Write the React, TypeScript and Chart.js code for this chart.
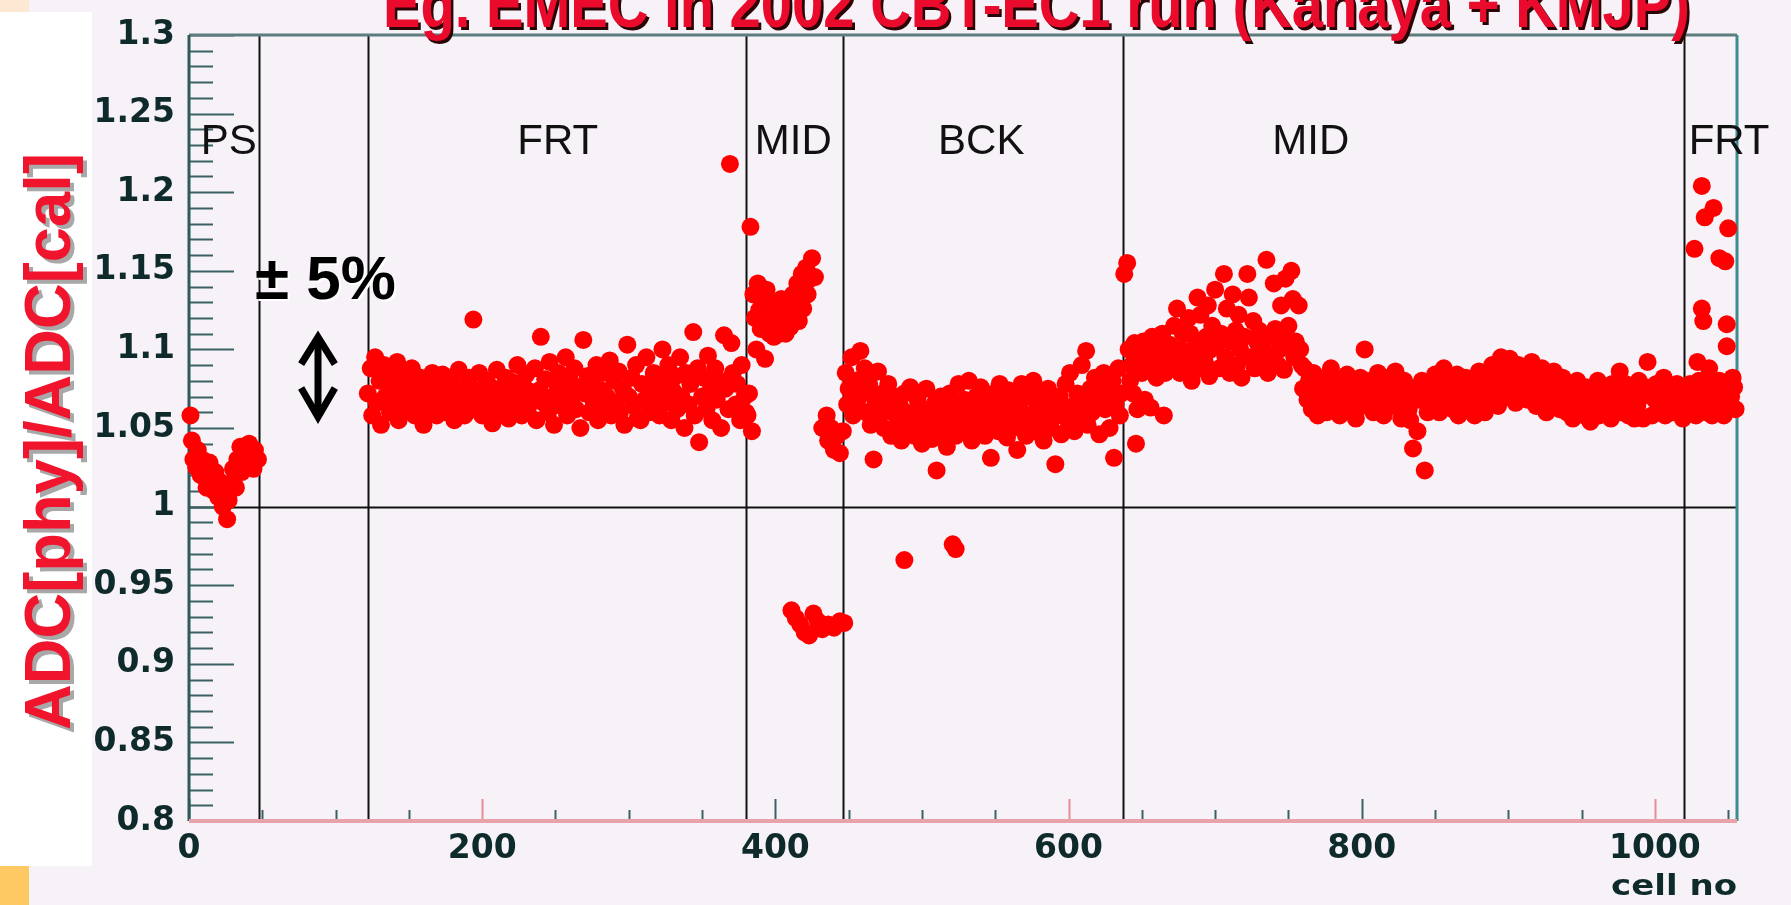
import React, { useEffect, useRef } from "react";
import { Chart, registerables } from "chart.js";

Chart.register(...registerables);

const W = 1791;
const H = 905;

// [cell no, ADC[phy]/ADC[cal]]
const psPoints: [number, number][] = [
  [1, 1.058], [2, 1.042], [3, 1.03], [5, 1.025], [6, 1.036], [8, 1.02], [9, 1.03], [11, 1.022],
  [12, 1.012], [14, 1.028], [15, 1.018], [17, 1.01], [18, 1.022], [20, 1.006], [21, 1.016], [23, 1.0],
  [24, 1.01], [26, 0.992], [27, 1.004], [29, 1.015], [30, 1.024], [32, 1.012], [33, 1.03], [35, 1.038],
  [36, 1.022], [38, 1.034], [39, 1.028], [41, 1.04], [42, 1.03], [44, 1.024], [45, 1.036], [47, 1.03],
];

const frtPoints: [number, number][] = [
  [122, 1.072], [124, 1.088], [125, 1.058], [127, 1.095], [128, 1.066], [130, 1.08], [131, 1.052], [133, 1.09],
  [134, 1.07], [136, 1.078], [137, 1.06], [139, 1.085], [140, 1.068], [142, 1.092], [143, 1.055], [145, 1.075],
  [146, 1.083], [148, 1.063], [149, 1.078], [151, 1.07], [152, 1.088], [154, 1.058], [155, 1.074], [157, 1.066],
  [158, 1.082], [160, 1.052], [161, 1.07], [163, 1.079], [164, 1.062], [166, 1.085], [167, 1.072], [169, 1.058],
  [170, 1.076], [172, 1.068], [173, 1.084], [175, 1.06], [176, 1.074], [178, 1.065], [179, 1.08], [181, 1.055],
  [182, 1.071], [184, 1.087], [185, 1.064], [187, 1.076], [188, 1.058], [190, 1.07], [191, 1.082], [193, 1.062],
  [194, 1.119], [195, 1.074], [197, 1.067], [198, 1.085], [200, 1.058], [201, 1.072], [203, 1.08], [204, 1.063],
  [206, 1.076], [207, 1.053], [209, 1.069], [210, 1.087], [212, 1.06], [213, 1.075], [215, 1.066], [216, 1.082],
  [218, 1.056], [219, 1.072], [221, 1.079], [222, 1.064], [224, 1.09], [225, 1.07], [227, 1.058], [228, 1.077],
  [230, 1.084], [231, 1.062], [233, 1.073], [234, 1.067], [236, 1.088], [237, 1.055], [239, 1.074], [240, 1.108],
  [242, 1.066], [243, 1.081], [245, 1.06], [246, 1.092], [248, 1.07], [249, 1.052], [251, 1.078], [252, 1.085],
  [254, 1.064], [255, 1.073], [257, 1.095], [258, 1.058], [260, 1.08], [261, 1.068], [263, 1.088], [264, 1.062],
  [266, 1.076], [267, 1.05], [269, 1.106], [270, 1.072], [272, 1.083], [273, 1.06], [275, 1.078], [276, 1.067],
  [278, 1.09], [279, 1.055], [281, 1.074], [282, 1.085], [284, 1.062], [285, 1.07], [287, 1.093], [288, 1.058],
  [290, 1.08], [291, 1.066], [293, 1.086], [294, 1.06], [296, 1.075], [297, 1.052], [299, 1.103], [300, 1.07],
  [302, 1.082], [303, 1.064], [305, 1.09], [306, 1.056], [308, 1.055], [309, 1.078], [311, 1.068], [312, 1.095],
  [314, 1.06], [315, 1.075], [317, 1.085], [318, 1.064], [320, 1.072], [321, 1.058], [323, 1.1], [324, 1.08],
  [326, 1.066], [327, 1.09], [329, 1.055], [330, 1.074], [332, 1.083], [333, 1.062], [335, 1.095], [336, 1.07],
  [338, 1.05], [339, 1.085], [341, 1.065], [342, 1.078], [344, 1.111], [345, 1.058], [347, 1.088], [348, 1.041],
  [350, 1.07], [351, 1.082], [353, 1.062], [354, 1.096], [356, 1.075], [357, 1.055], [359, 1.088], [360, 1.068],
  [362, 1.08], [363, 1.05], [365, 1.109], [366, 1.075], [368, 1.062], [369, 1.218], [370, 1.104], [371, 1.085],
  [373, 1.065], [374, 1.078], [376, 1.055], [377, 1.09], [379, 1.07], [380, 1.06],
];

const midFrontPoints: [number, number][] = [
  [381, 1.058], [382, 1.072], [383, 1.178], [384, 1.048], [385, 1.135], [386, 1.12], [387, 1.1], [388, 1.142],
  [389, 1.125], [390, 1.113], [391, 1.132], [392, 1.118], [393, 1.094], [394, 1.138], [395, 1.124], [396, 1.11],
  [397, 1.13], [398, 1.118], [399, 1.108], [400, 1.128], [401, 1.115], [402, 1.122], [403, 1.11], [404, 1.132],
  [405, 1.118], [406, 1.125], [407, 1.11], [408, 1.12], [409, 1.13], [410, 1.114], [411, 1.124], [412, 1.135],
  [413, 1.12], [414, 1.128], [415, 1.142], [416, 1.118], [417, 1.132], [418, 1.148], [419, 1.126], [420, 1.14],
  [421, 1.152], [422, 1.135], [424, 1.145], [425, 1.158], [427, 1.146],
  [432, 1.05], [435, 1.058], [436, 1.042], [438, 1.05], [440, 1.036], [442, 1.045], [444, 1.034], [446, 1.048],
  [411, 0.934], [414, 0.929], [417, 0.925], [420, 0.92], [423, 0.918], [426, 0.932], [429, 0.927], [432, 0.922],
  [436, 0.925], [440, 0.923], [444, 0.927], [447, 0.926],
];

const bckPoints: [number, number][] = [
  [448, 1.085], [449, 1.065], [450, 1.075], [452, 1.095], [453, 1.058], [455, 1.08], [456, 1.068], [458, 1.099],
  [459, 1.072], [461, 1.088], [462, 1.06], [464, 1.078], [465, 1.052], [467, 1.03], [468, 1.068], [470, 1.086],
  [471, 1.058], [473, 1.072], [474, 1.05], [476, 1.066], [477, 1.078], [479, 1.045], [480, 1.06], [482, 1.07],
  [483, 1.052], [485, 1.064], [486, 1.042], [488, 1.072], [489, 1.055], [491, 1.048], [492, 1.076], [494, 1.06],
  [495, 1.045], [497, 1.068], [498, 1.052], [500, 1.04], [501, 1.062], [503, 1.075], [504, 1.05], [506, 1.058],
  [507, 1.043], [509, 1.066], [510, 1.023], [511, 1.055], [513, 1.07], [514, 1.048], [516, 1.06], [517, 1.038],
  [519, 1.072], [520, 1.052], [522, 1.064], [523, 1.045], [525, 1.078], [526, 1.058], [528, 1.048], [529, 1.068],
  [531, 1.055], [532, 1.08], [534, 1.042], [535, 1.062], [537, 1.07], [538, 1.05], [540, 1.076], [541, 1.058],
  [543, 1.045], [544, 1.066], [546, 1.054], [547, 1.031], [549, 1.072], [550, 1.06], [552, 1.048], [553, 1.078],
  [555, 1.056], [556, 1.066], [558, 1.044], [559, 1.074], [561, 1.058], [562, 1.05], [564, 1.068], [565, 1.036],
  [567, 1.062], [568, 1.078], [570, 1.052], [571, 1.045], [573, 1.07], [574, 1.058], [576, 1.08], [577, 1.048],
  [579, 1.064], [580, 1.055], [582, 1.072], [583, 1.042], [585, 1.06], [586, 1.075], [588, 1.05], [589, 1.066],
  [591, 1.027], [592, 1.058], [594, 1.07], [595, 1.046], [597, 1.062], [598, 1.078], [600, 1.054], [601, 1.085],
  [603, 1.064], [604, 1.048], [606, 1.072], [607, 1.058], [609, 1.09], [610, 1.066], [612, 1.099], [613, 1.052],
  [615, 1.075], [616, 1.06], [618, 1.082], [619, 1.068], [621, 1.046], [622, 1.077], [624, 1.085], [625, 1.062],
  [627, 1.07], [628, 1.05], [630, 1.08], [631, 1.031], [632, 1.065], [634, 1.088], [635, 1.058], [636, 1.072],
  [488, 0.966], [521, 0.976], [523, 0.973],
];

const midBackPoints: [number, number][] = [
  [638, 1.148], [640, 1.155], [641, 1.1], [642, 1.08], [643, 1.09], [644, 1.072], [645, 1.104], [646, 1.04],
  [647, 1.062], [648, 1.095], [650, 1.085], [651, 1.105], [652, 1.068], [653, 1.098], [655, 1.088], [656, 1.063],
  [657, 1.108], [659, 1.092], [660, 1.082], [661, 1.1], [663, 1.09], [664, 1.11], [665, 1.058], [666, 1.085],
  [668, 1.097], [669, 1.103], [670, 1.088], [672, 1.115], [673, 1.094], [674, 1.126], [676, 1.085], [677, 1.1],
  [678, 1.11], [680, 1.09], [681, 1.098], [682, 1.12], [683, 1.11], [684, 1.08], [685, 1.095], [687, 1.105],
  [688, 1.133], [689, 1.088], [690, 1.122], [691, 1.1], [693, 1.092], [694, 1.108], [695, 1.128], [696, 1.083],
  [697, 1.1], [698, 1.115], [700, 1.138], [701, 1.102], [703, 1.088], [704, 1.11], [706, 1.148], [707, 1.095],
  [708, 1.126], [710, 1.085], [711, 1.105], [712, 1.135], [714, 1.112], [715, 1.09], [716, 1.122], [717, 1.1],
  [718, 1.082], [720, 1.108], [722, 1.148], [723, 1.133], [724, 1.095], [726, 1.118], [727, 1.088], [729, 1.104],
  [730, 1.112], [731, 1.094], [733, 1.1], [735, 1.157], [736, 1.085], [737, 1.108], [739, 1.095], [740, 1.142],
  [741, 1.113], [743, 1.09], [744, 1.1], [745, 1.128], [746, 1.108], [747, 1.087], [748, 1.145], [749, 1.102],
  [750, 1.115], [752, 1.15], [753, 1.132], [754, 1.095], [755, 1.105], [757, 1.128], [758, 1.1], [759, 1.09],
  [760, 1.075], [761, 1.088], [763, 1.068], [764, 1.08], [766, 1.062], [767, 1.085], [769, 1.072], [770, 1.058],
  [772, 1.078], [773, 1.066], [775, 1.082], [776, 1.06], [778, 1.074], [779, 1.088], [781, 1.064], [782, 1.07],
  [784, 1.08], [785, 1.058], [787, 1.076], [788, 1.068], [790, 1.084], [791, 1.062], [793, 1.072], [794, 1.078],
  [796, 1.056], [797, 1.07], [799, 1.082], [800, 1.064], [802, 1.1], [803, 1.074], [805, 1.066], [806, 1.08],
  [808, 1.06], [809, 1.072], [811, 1.085], [812, 1.068], [814, 1.076], [815, 1.058], [817, 1.07], [818, 1.082],
  [820, 1.064], [821, 1.075], [823, 1.086], [824, 1.066], [826, 1.072], [827, 1.056], [829, 1.08], [830, 1.068],
  [832, 1.062], [833, 1.055], [835, 1.037], [836, 1.075], [838, 1.048], [839, 1.068], [841, 1.08], [843, 1.023],
  [844, 1.07], [845, 1.06], [847, 1.078], [848, 1.066], [850, 1.084], [851, 1.07], [853, 1.06], [854, 1.076],
  [856, 1.088], [857, 1.066], [859, 1.074], [860, 1.08], [862, 1.062], [863, 1.07], [865, 1.084], [866, 1.058],
  [868, 1.076], [869, 1.068], [871, 1.082], [872, 1.072], [874, 1.064], [875, 1.078], [877, 1.058], [878, 1.07],
  [880, 1.086], [881, 1.066], [883, 1.076], [884, 1.06], [886, 1.08], [887, 1.07], [889, 1.09], [890, 1.072],
  [892, 1.082], [893, 1.064], [895, 1.095], [896, 1.078], [898, 1.088], [899, 1.07], [901, 1.094], [902, 1.076],
  [904, 1.085], [905, 1.066], [907, 1.09], [908, 1.078], [910, 1.072], [911, 1.086], [913, 1.068], [914, 1.08],
  [916, 1.092], [917, 1.074], [919, 1.064], [920, 1.082], [922, 1.076], [923, 1.088], [925, 1.07], [926, 1.06],
  [928, 1.08], [929, 1.072], [931, 1.086], [932, 1.066], [934, 1.076], [935, 1.062], [937, 1.082], [938, 1.07],
  [940, 1.06], [941, 1.078], [943, 1.068], [944, 1.056], [946, 1.074], [947, 1.08], [949, 1.062], [950, 1.07],
  [952, 1.058], [953, 1.076], [955, 1.066], [956, 1.054], [958, 1.072], [959, 1.062], [961, 1.08], [962, 1.058],
  [964, 1.068], [965, 1.076], [967, 1.06], [968, 1.07], [970, 1.056], [971, 1.078], [973, 1.064], [974, 1.072],
  [976, 1.086], [977, 1.06], [979, 1.07], [980, 1.078], [982, 1.058], [983, 1.066], [985, 1.074], [986, 1.056],
  [988, 1.064], [989, 1.08], [991, 1.07], [992, 1.056], [994, 1.076], [995, 1.092], [997, 1.072], [998, 1.058],
  [1000, 1.068], [1001, 1.078], [1003, 1.06], [1004, 1.07], [1006, 1.082], [1007, 1.058], [1009, 1.066], [1010, 1.074],
  [1012, 1.06], [1013, 1.07], [1015, 1.078], [1016, 1.062], [1018, 1.072], [1019, 1.056],
];

const frtEndPoints: [number, number][] = [
  [1027, 1.164], [1029, 1.092], [1032, 1.204], [1032, 1.126], [1033, 1.118], [1034, 1.184], [1037, 1.088],
  [1040, 1.19], [1044, 1.158], [1048, 1.156], [1049, 1.116], [1049, 1.102], [1050, 1.177], [1053, 1.082],
  [1021, 1.07], [1022, 1.06], [1024, 1.078], [1025, 1.065], [1027, 1.072], [1028, 1.058], [1030, 1.08], [1031, 1.066],
  [1033, 1.074], [1035, 1.06], [1036, 1.078], [1038, 1.07], [1039, 1.058], [1041, 1.075], [1042, 1.064], [1044, 1.08],
  [1045, 1.068], [1047, 1.058], [1048, 1.074], [1050, 1.065], [1051, 1.08], [1052, 1.07], [1054, 1.076], [1055, 1.062],
];

const yTickValues = [0.8, 0.85, 0.9, 0.95, 1, 1.05, 1.1, 1.15, 1.2, 1.25, 1.3];
const yTickLabels = ["0.8", "0.85", "0.9", "0.95", "1", "1.05", "1.1", "1.15", "1.2", "1.25", "1.3"];
const xTickValues = [0, 200, 400, 600, 800, 1000];
const xTickLabels = ["0", "200", "400", "600", "800", "1000"];

const sectionEdges = [48, 122, 380, 446, 637, 1020];
const sectionNames = ["PS", "FRT", "MID", "BCK", "MID", "FRT"];
const sectionNameCells = [8, 224, 386, 511, 739, 1023];

const titleText = "Eg. EMEC in 2002 CBT-EC1 run (Kanaya + KMJP)";
const yTitleText = "ADC[phy]/ADC[cal]";
const xTitleText = "cell no";

export default function App() {
  const ref = useRef<HTMLCanvasElement>(null);

  useEffect(() => {
    document.body.style.margin = "0";
    const canvas = ref.current!;
    const all = [...psPoints, ...frtPoints, ...midFrontPoints, ...bckPoints, ...midBackPoints, ...frtEndPoints].map(
      ([x, y]) => ({ x, y })
    );

    const decor = {
      id: "decor",
      beforeDraw(chart: any) {
        const ctx = chart.ctx as CanvasRenderingContext2D;
        ctx.save();
        ctx.fillStyle = "#f6f2f7";
        ctx.fillRect(0, 0, W, H);
        ctx.fillStyle = "#ffffff";
        ctx.fillRect(0, 12, 92, 854);
        ctx.fillStyle = "#fde8d4";
        ctx.fillRect(0, 0, 29, 12);
        ctx.fillStyle = "#fec962";
        ctx.fillRect(0, 866, 29, 39);
        ctx.restore();
      },
      beforeDatasetsDraw(chart: any) {
        const ctx = chart.ctx as CanvasRenderingContext2D;
        const xs = chart.scales.x;
        const ys = chart.scales.y;
        const { left, right, top, bottom } = chart.chartArea;
        ctx.save();
        ctx.strokeStyle = "#111111";
        ctx.lineWidth = 2;
        for (const e of sectionEdges) {
          const px = Math.round(xs.getPixelForValue(e)) + 0.5;
          ctx.beginPath();
          ctx.moveTo(px, top);
          ctx.lineTo(px, bottom);
          ctx.stroke();
        }
        const py1 = Math.round(ys.getPixelForValue(1)) + 0.5;
        ctx.beginPath();
        ctx.moveTo(left, py1);
        ctx.lineTo(right, py1);
        ctx.stroke();

        ctx.strokeStyle = "#3a6264";
        ctx.lineWidth = 2;
        for (let i = 0; i <= 50; i++) {
          const v = 0.8 + i * 0.01;
          const py = Math.round(ys.getPixelForValue(v)) + 0.5;
          const len = i % 5 === 0 ? 45 : 24;
          ctx.beginPath();
          ctx.moveTo(left, py);
          ctx.lineTo(left + len, py);
          ctx.stroke();
        }
        for (let i = 0; i <= 21; i++) {
          const v = i * 50;
          const px = Math.round(xs.getPixelForValue(v)) + 0.5;
          const len = v % 200 === 0 ? 22 : 11;
          ctx.strokeStyle = v % 200 === 0 && v % 400 !== 0 ? "#e58f98" : "#3a6264";
          ctx.beginPath();
          ctx.moveTo(px, bottom);
          ctx.lineTo(px, bottom - len);
          ctx.stroke();
        }
        ctx.lineWidth = 3;
        ctx.strokeStyle = "#5d7c7e";
        ctx.beginPath();
        ctx.moveTo(left, top);
        ctx.lineTo(right, top);
        ctx.stroke();
        ctx.strokeStyle = "#3f8c90";
        ctx.beginPath();
        ctx.moveTo(right, top);
        ctx.lineTo(right, bottom);
        ctx.stroke();
        ctx.strokeStyle = "#2f5a5c";
        ctx.beginPath();
        ctx.moveTo(left, top);
        ctx.lineTo(left, bottom);
        ctx.stroke();
        ctx.strokeStyle = "#e8a2aa";
        ctx.lineWidth = 4;
        ctx.beginPath();
        ctx.moveTo(left, bottom);
        ctx.lineTo(right, bottom);
        ctx.stroke();

        ctx.fillStyle = "#111111";
        ctx.font = '42px "Liberation Sans"';
        ctx.textAlign = "left";
        ctx.textBaseline = "alphabetic";
        const ny = ys.getPixelForValue(1.224);
        sectionNames.forEach((n, i) => {
          ctx.fillText(n, xs.getPixelForValue(sectionNameCells[i]), ny);
        });
        ctx.restore();
      },
      afterDraw(chart: any) {
        const ctx = chart.ctx as CanvasRenderingContext2D;
        const xs = chart.scales.x;
        const ys = chart.scales.y;
        const { right } = chart.chartArea;
        ctx.save();

        ctx.font = 'bold 62px "Liberation Sans"';
        ctx.textAlign = "left";
        ctx.textBaseline = "alphabetic";
        const tx = xs.getPixelForValue(45);
        const ty = ys.getPixelForValue(1.132);
        ctx.fillStyle = "#ffffff";
        ctx.fillText("± 5%", tx + 2, ty + 2);
        ctx.fillStyle = "#000000";
        ctx.fillText("± 5%", tx, ty);

        const ax = xs.getPixelForValue(88);
        const aTop = ys.getPixelForValue(1.1103);
        const aBot = ys.getPixelForValue(1.0544);
        const wTop = ys.getPixelForValue(1.0906);
        const wBot = ys.getPixelForValue(1.0754);
        const hw = xs.getPixelForValue(88 + 11.5) - ax;
        ctx.strokeStyle = "#000000";
        ctx.lineWidth = 7;
        ctx.lineJoin = "miter";
        ctx.lineCap = "butt";
        ctx.beginPath();
        ctx.moveTo(ax, aTop + 4);
        ctx.lineTo(ax, aBot - 4);
        ctx.stroke();
        ctx.beginPath();
        ctx.moveTo(ax - hw, wTop);
        ctx.lineTo(ax, aTop + 4);
        ctx.lineTo(ax + hw, wTop);
        ctx.stroke();
        ctx.beginPath();
        ctx.moveTo(ax - hw, wBot);
        ctx.lineTo(ax, aBot - 4);
        ctx.lineTo(ax + hw, wBot);
        ctx.stroke();

        // x axis title
        ctx.font = 'bold 28px "DejaVu Sans"';
        const cw = ctx.measureText(xTitleText).width;
        ctx.save();
        ctx.translate(right, 895);
        ctx.scale(126 / cw, 1);
        ctx.textAlign = "right";
        ctx.fillStyle = "#0f2a2a";
        ctx.fillText(xTitleText, 0, 0);
        ctx.restore();

        // y axis title
        ctx.font = 'bold 64px "Liberation Sans"';
        const yw = ctx.measureText(yTitleText).width;
        ctx.save();
        ctx.translate(70, 730);
        ctx.rotate(-Math.PI / 2);
        ctx.scale(577 / yw, 1);
        ctx.textAlign = "left";
        ctx.fillStyle = "#a8a8a8";
        ctx.fillText(yTitleText, -4, 4);
        ctx.fillStyle = "#f0142d";
        ctx.fillText(yTitleText, 0, 0);
        ctx.restore();

        // main title
        ctx.font = 'bold 66px "Liberation Sans"';
        const tw = ctx.measureText(titleText).width;
        ctx.save();
        ctx.translate(383, 27);
        ctx.scale(1307 / tw, 1);
        ctx.textAlign = "left";
        ctx.fillStyle = "#2a0505";
        ctx.fillText(titleText, 3, 3);
        ctx.fillStyle = "#ea0a2c";
        ctx.fillText(titleText, 0, 0);
        ctx.restore();

        ctx.restore();
      },
    };

    const tickFont = { family: '"DejaVu Sans"', weight: "bold" as const, size: 33 };

    const chart = new Chart(canvas, {
      type: "scatter",
      data: {
        datasets: [
          {
            data: all,
            pointBackgroundColor: "#ff0000",
            pointBorderColor: "#ff0000",
            pointBorderWidth: 0,
            pointRadius: 9,
            pointHoverRadius: 9,
            clip: false as any,
          } as any,
        ],
      },
      options: {
        responsive: false,
        animation: false,
        devicePixelRatio: 1,
        events: [],
        layout: { padding: { left: 0, right: 54, top: 35, bottom: 0 } },
        plugins: { legend: { display: false }, tooltip: { enabled: false }, title: { display: false } },
        scales: {
          x: {
            type: "linear",
            min: 0,
            max: 1056,
            grid: { display: false, drawTicks: false },
            border: { display: false },
            afterBuildTicks: (s: any) => {
              s.ticks = xTickValues.map((v) => ({ value: v }));
            },
            afterFit: (s: any) => {
              s.height = H - 821;
            },
            ticks: {
              autoSkip: false,
              maxRotation: 0,
              padding: 9,
              color: "#0f2a2a",
              font: tickFont,
              callback: (_v: any, i: number) => xTickLabels[i],
            },
          },
          y: {
            type: "linear",
            min: 0.8,
            max: 1.3,
            grid: { display: false, drawTicks: false },
            border: { display: false },
            afterBuildTicks: (s: any) => {
              s.ticks = yTickValues.map((v) => ({ value: v }));
            },
            afterFit: (s: any) => {
              s.width = 189;
            },
            ticks: {
              autoSkip: false,
              padding: 14,
              color: "#0f2a2a",
              font: tickFont,
              callback: (_v: any, i: number) => yTickLabels[i],
            },
          },
        },
      },
      plugins: [decor],
    });
    return () => chart.destroy();
  }, []);

  return (
    <div style={{ width: W, height: H, position: "relative", overflow: "hidden" }}>
      <canvas ref={ref} width={W} height={H} style={{ display: "block" }} />
    </div>
  );
}
